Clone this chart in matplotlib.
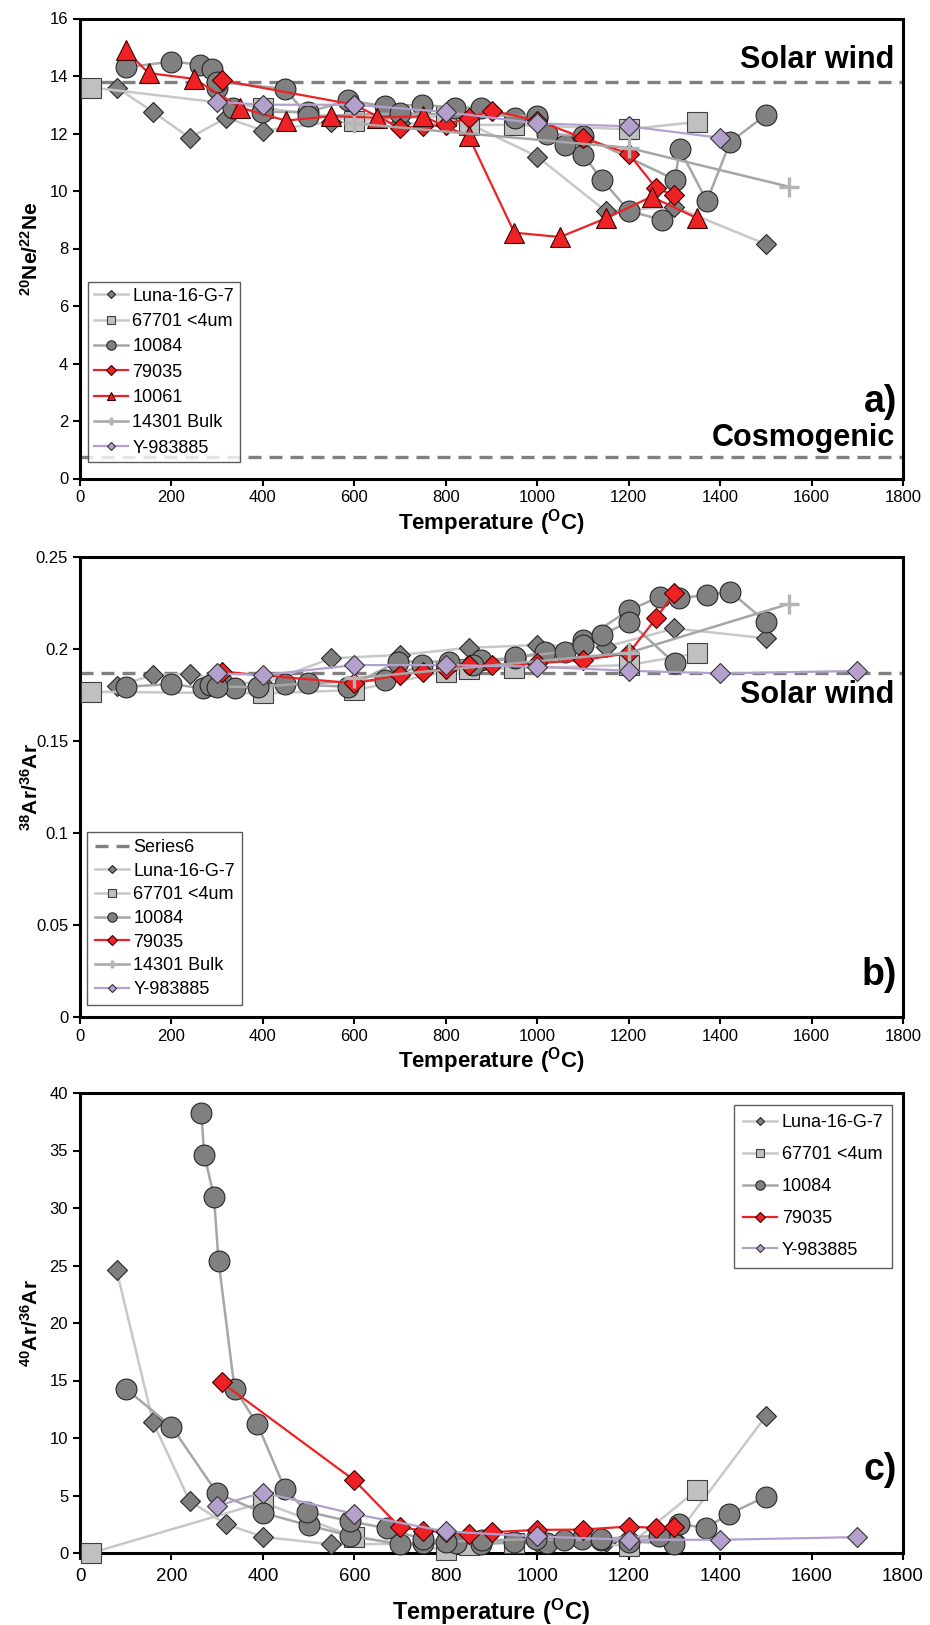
import matplotlib
matplotlib.use("Agg")
import matplotlib.pyplot as plt

plt.rcParams['font.family'] = ['Liberation Sans', 'DejaVu Sans']
plt.rcParams['mathtext.fontset'] = 'custom'
plt.rcParams['mathtext.rm'] = 'Liberation Sans'
plt.rcParams['mathtext.bf'] = 'Liberation Sans:bold'

# ---------------- data ----------------
# panel a: 20Ne/22Ne
luna_a_T = [80, 160, 240, 320, 400, 550, 700, 850, 1000, 1150, 1300, 1500]
luna_a = [13.6, 12.75, 11.85, 12.55, 12.1, 12.4, 12.35, 12.35, 11.2, 9.3, 9.45, 8.15]
s67701_a_T = [25, 400, 600, 800, 850, 950, 1200, 1350]
s67701_a = [13.6, 12.9, 12.45, 12.6, 12.3, 12.3, 12.15, 12.4]
s10084a_a_T = [100, 200, 262, 288, 299, 335, 397, 499, 587, 667, 747, 820, 878, 951, 999, 1061, 1101, 1141, 1201, 1272]
s10084a_a = [14.3, 14.5, 14.4, 14.25, 13.6, 12.9, 12.75, 12.75, 13.15, 12.95, 13.0, 12.9, 12.9, 12.55, 12.55, 11.6, 11.25, 10.4, 9.3, 9.0]
s10084b_a_T = [299, 448, 499, 700, 1000, 1021, 1101, 1301, 1312, 1371, 1422, 1500]
s10084b_a = [13.8, 13.55, 12.6, 12.7, 12.6, 12.0, 11.9, 10.4, 11.45, 9.65, 11.7, 12.65]
s79035_a_T = [310, 600, 700, 750, 800, 850, 900, 1000, 1100, 1200, 1260, 1300]
s79035_a = [13.85, 13.0, 12.2, 12.25, 12.3, 12.55, 12.8, 12.45, 11.85, 11.3, 10.1, 9.85]
s10061_a_T = [100, 150, 250, 350, 450, 550, 650, 750, 850, 950, 1050, 1150, 1250, 1350]
s10061_a = [14.9, 14.1, 13.9, 12.9, 12.45, 12.6, 12.55, 12.6, 11.9, 8.55, 8.4, 9.05, 9.8, 9.05]
s14301_a_T = [600, 1200, 1550]
s14301_a = [12.35, 11.5, 10.15]
y983885_a_T = [300, 400, 600, 800, 1000, 1200, 1400]
y983885_a = [13.1, 13.0, 13.0, 12.75, 12.35, 12.25, 11.85]
solar_wind_ne = 13.8
cosmogenic_ne = 0.75

# panel b: 38Ar/36Ar
luna_b_T = luna_a_T
luna_b = [0.180, 0.1855, 0.1865, 0.182, 0.181, 0.1948, 0.1966, 0.2005, 0.202, 0.201, 0.211, 0.2057]
s67701_b_T = [25, 400, 600, 800, 850, 950, 1200, 1350]
s67701_b = [0.1766, 0.1757, 0.1775, 0.1875, 0.189, 0.1893, 0.1911, 0.1975]
s10084a_b_T = [100, 200, 268, 339, 448, 587, 696, 806, 878, 951, 1017, 1101, 1201, 1269, 1309, 1371, 1422, 1500]
s10084a_b = [0.1793, 0.1808, 0.1785, 0.1785, 0.1808, 0.1793, 0.193, 0.193, 0.1939, 0.1948, 0.1984, 0.2047,
             0.221, 0.2283, 0.2274, 0.2292, 0.231, 0.2147]
s10084b_b_T = [284, 299, 390, 499, 667, 747, 860, 951, 1061, 1101, 1141, 1201, 1301]
s10084b_b = [0.1803, 0.1793, 0.1793, 0.1812, 0.183, 0.1911, 0.191, 0.1953, 0.1984, 0.202, 0.2074, 0.2147, 0.192]
s79035_b_T = s79035_a_T
s79035_b = [0.1875, 0.1812, 0.1857, 0.1875, 0.189, 0.1911, 0.1911, 0.192, 0.1939, 0.1975, 0.2165, 0.2304]
s14301_b_T = [600, 1200, 1550]
s14301_b = [0.184, 0.1978, 0.2243]
y983885_b_T = [300, 400, 600, 800, 1000, 1200, 1400, 1700]
y983885_b = [0.1866, 0.1857, 0.1911, 0.1911, 0.1902, 0.188, 0.1866, 0.1879]
solar_wind_ar = 0.1866

# panel c: 40Ar/36Ar
luna_c_T = luna_a_T
luna_c = [24.6, 11.35, 4.5, 2.5, 1.4, 0.75, 0.8, 0.9, 1.0, 1.0, 1.3, 11.9]
s67701_c_T = [25, 400, 600, 800, 850, 950, 1200, 1350]
s67701_c = [0.0, 4.4, 1.4, 0.25, 0.7, 0.9, 0.65, 5.5]
s10084a_c_T = [100, 200, 300, 400, 500, 590, 700, 751, 823, 877, 949, 1021, 1099, 1139, 1200, 1300]
s10084a_c = [14.3, 11.0, 5.2, 3.5, 2.4, 1.5, 0.75, 0.86, 0.86, 0.8, 0.95, 0.9, 1.24, 1.1, 1.0, 0.8]
s10084b_c_T = [265, 272, 293, 303, 338, 388, 448, 496, 590, 671, 750, 800, 880, 997, 1059, 1139, 1267, 1309,
               1369, 1420, 1500]
s10084b_c = [38.3, 34.6, 31.0, 25.4, 14.3, 11.2, 5.6, 3.6, 2.76, 2.15, 1.2, 1.0, 1.1, 1.2, 1.1, 1.24, 1.5, 2.5,
             2.2, 3.4, 4.9]
s79035_c_T = s79035_a_T
s79035_c = [14.83, 6.32, 2.24, 1.95, 1.8, 1.61, 1.81, 2.01, 2.04, 2.3, 2.18, 2.3]
y983885_c_T = [300, 400, 600, 800, 1000, 1200, 1400, 1700]
y983885_c = [4.1, 5.26, 3.39, 1.87, 1.44, 1.15, 1.15, 1.38]

# ---------------- styles ----------------
red = '#ee2125'
purple = '#b4a0cd'
styles = {
    'Luna-16-G-7': dict(color='#c8c8c8', lw=1.8, marker='D', ms=10, mfc='#7f7f7f', mec='#262626', mew=0.8),
    '67701 <4um': dict(color='#c8c8c8', lw=1.8, marker='s', ms=14, mfc='#c0c0c0', mec='#404040', mew=0.8),
    '10084': dict(color='#a6a6a6', lw=1.8, marker='o', ms=15, mfc='#808080', mec='#262626', mew=0.8),
    '79035': dict(color=red, lw=1.6, marker='D', ms=10.5, mfc=red, mec='#3a0000', mew=0.8),
    '10061': dict(color=red, lw=1.6, marker='^', ms=14, mfc=red, mec='#3a0000', mew=0.8),
    '14301 Bulk': dict(color='#a6a6a6', lw=1.8, marker='+', ms=14, mec='#b4b4b4', mew=2.4),
    'Y-983885': dict(color=purple, lw=1.6, marker='D', ms=10, mfc=purple, mec='#333333', mew=0.8),
}


def series(ax, T, v, name, label=True):
    ax.plot(T, v, label=name if label else '_nolegend_', clip_on=False, zorder=3, **styles[name])


def dashed(ax, y, label='_nolegend_'):
    ax.axhline(y, color='#808080', lw=2.4, dashes=(3.9, 2.4), zorder=1, label=label)


def setup(ax, ymax, ylabel, xl_y=-0.062, xl_size=16, xpad=3.5, xsize=12):
    ax.set_xlim(0, 1800)
    ax.set_ylim(0, ymax)
    ax.set_xticks(range(0, 1801, 200))
    for sp in ax.spines.values():
        sp.set_linewidth(2.2)
    ax.tick_params(direction='out', length=5, width=1.5, labelsize=12)
    ax.tick_params(axis='x', pad=xpad, labelsize=xsize)
    ax.set_xlabel(r'$\mathbf{Temperature\ (^{O}C)}$', fontsize=xl_size)
    ax.xaxis.set_label_coords(0.5, xl_y)
    ax.set_ylabel(ylabel, fontsize=15)
    ax.yaxis.set_label_coords(-0.047, 0.5)


fig = plt.figure(figsize=(9.3, 16.25), dpi=100)
w = 823 / 930
h = 460 / 1625
left = 80 / 930
ax_a = fig.add_axes([left, 1 - 478.5 / 1625, w, h])
ax_b = fig.add_axes([left, 1 - 1016.7 / 1625, w, h])
ax_c = fig.add_axes([left, 1 - 1553 / 1625, w, h])

leg_kw = dict(fontsize=13, frameon=True, fancybox=False, edgecolor='#333333', markerscale=0.45,
              numpoints=1, handlelength=1.9, handletextpad=0.25, borderaxespad=0)

# ---- panel a ----
dashed(ax_a, solar_wind_ne)
dashed(ax_a, cosmogenic_ne)
series(ax_a, luna_a_T, luna_a, 'Luna-16-G-7')
series(ax_a, s67701_a_T, s67701_a, '67701 <4um')
series(ax_a, s10084a_a_T, s10084a_a, '10084')
series(ax_a, s10084b_a_T, s10084b_a, '10084', label=False)
series(ax_a, s79035_a_T, s79035_a, '79035')
series(ax_a, s10061_a_T, s10061_a, '10061')
series(ax_a, s14301_a_T, s14301_a, '14301 Bulk')
series(ax_a, y983885_a_T, y983885_a, 'Y-983885')
setup(ax_a, 16, r'$\mathbf{^{20}Ne/^{22}Ne}$')
ax_a.set_yticks(range(0, 17, 2))
ax_a.legend(loc='lower left', bbox_to_anchor=(0.01, 0.036), labelspacing=0.46, borderpad=0.3, **leg_kw)
ax_a.text(0.99, 0.91, 'Solar wind', transform=ax_a.transAxes, ha='right', va='center',
          fontsize=22, fontweight='bold')
ax_a.text(0.99, 0.089, 'Cosmogenic', transform=ax_a.transAxes, ha='right', va='center',
          fontsize=22, fontweight='bold')
ax_a.text(0.993, 0.127, 'a)', transform=ax_a.transAxes, ha='right', va='bottom',
          fontsize=27, fontweight='bold')

# ---- panel b ----
dashed(ax_b, solar_wind_ar, label='Series6')
series(ax_b, luna_b_T, luna_b, 'Luna-16-G-7')
series(ax_b, s67701_b_T, s67701_b, '67701 <4um')
series(ax_b, s10084a_b_T, s10084a_b, '10084')
series(ax_b, s10084b_b_T, s10084b_b, '10084', label=False)
series(ax_b, s79035_b_T, s79035_b, '79035')
series(ax_b, s14301_b_T, s14301_b, '14301 Bulk')
series(ax_b, y983885_b_T, y983885_b, 'Y-983885')
setup(ax_b, 0.25, r'$\mathbf{^{38}Ar/^{36}Ar}$')
ax_b.set_yticks([0, 0.05, 0.1, 0.15, 0.2, 0.25])
ax_b.set_yticklabels(['0', '0.05', '0.1', '0.15', '0.2', '0.25'])
ax_b.legend(loc='lower left', bbox_to_anchor=(0.009, 0.025), labelspacing=0.37, borderpad=0.4, **leg_kw)
ax_b.text(0.99, 0.70, 'Solar wind', transform=ax_b.transAxes, ha='right', va='center',
          fontsize=22, fontweight='bold')
ax_b.text(0.993, 0.09, 'b)', transform=ax_b.transAxes, ha='right', va='center',
          fontsize=27, fontweight='bold')

# ---- panel c ----
series(ax_c, luna_c_T, luna_c, 'Luna-16-G-7')
series(ax_c, s67701_c_T, s67701_c, '67701 <4um')
series(ax_c, s10084a_c_T, s10084a_c, '10084')
series(ax_c, s10084b_c_T, s10084b_c, '10084', label=False)
series(ax_c, s79035_c_T, s79035_c, '79035')
series(ax_c, y983885_c_T, y983885_c, 'Y-983885')
setup(ax_c, 40, r'$\mathbf{^{40}Ar/^{36}Ar}$', xl_y=-0.095, xl_size=17, xpad=6, xsize=13.5)
ax_c.set_yticks(range(0, 41, 5))
ax_c.legend(loc='upper right', bbox_to_anchor=(0.987, 0.973), labelspacing=0.82, borderpad=0.5, **leg_kw)
ax_c.text(0.993, 0.18, 'c)', transform=ax_c.transAxes, ha='right', va='center',
          fontsize=27, fontweight='bold')

fig.savefig('out.png', dpi=100)
